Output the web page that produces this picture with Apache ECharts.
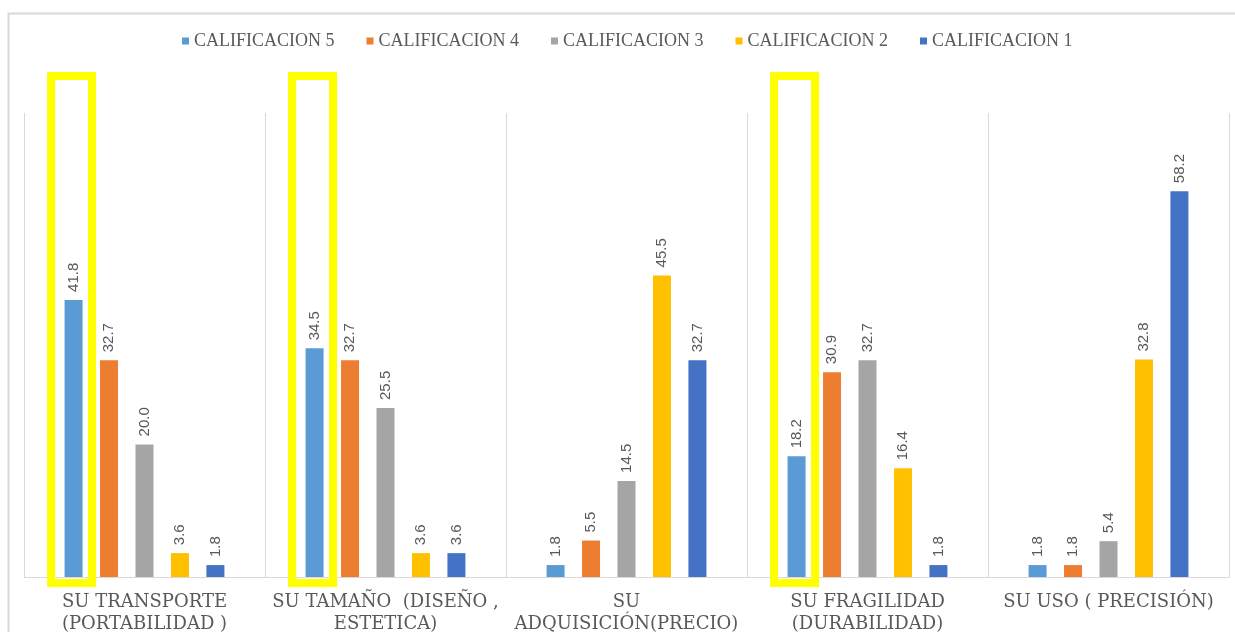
<!DOCTYPE html>
<html>
<head>
<meta charset="utf-8">
<script src="https://cdn.jsdelivr.net/npm/echarts@6/dist/echarts.min.js"></script>
<style>
  html, body { margin: 0; padding: 0; background: #ffffff; }
  #chart { width: 1235px; height: 632px; }
</style>
</head>
<body>
<div id="chart"></div>
<script>
// Aspects that were rated
const categories = [
  'SU TRANSPORTE\n(PORTABILIDAD )',
  'SU TAMAÑO  (DISEÑO ,\nESTETICA)',
  'SU\nADQUISICIÓN(PRECIO)',
  'SU FRAGILIDAD\n(DURABILIDAD)',
  'SU USO ( PRECISIÓN)'
];

// Percentage of answers for each rating
const seriesNames = ['CALIFICACION 5', 'CALIFICACION 4', 'CALIFICACION 3', 'CALIFICACION 2', 'CALIFICACION 1'];
const calificacion5 = [41.8, 34.5, 1.8, 18.2, 1.8];
const calificacion4 = [32.7, 32.7, 5.5, 30.9, 1.8];
const calificacion3 = [20.0, 25.5, 14.5, 32.7, 5.4];
const calificacion2 = [3.6, 3.6, 45.5, 16.4, 32.8];
const calificacion1 = [1.8, 3.6, 32.7, 1.8, 58.2];

// Aspects whose top rating is outlined
const highlighted = [0, 1, 3];

const seriesData = [calificacion5, calificacion4, calificacion3, calificacion2, calificacion1];
const colors = ['#5B9BD5', '#ED7D31', '#A5A5A5', '#FFC000', '#4472C4'];

const BAR_WIDTH = 18;
const BAR_GAP = 0.97;
const BAR_STEP = BAR_WIDTH * (1 + BAR_GAP);

const chart = echarts.init(document.getElementById('chart'), null, { renderer: 'canvas' });

const barSeries = seriesNames.map((name, i) => ({
  name: name,
  type: 'bar',
  data: seriesData[i],
  barWidth: BAR_WIDTH,
  barGap: (BAR_GAP * 100) + '%',
  itemStyle: { color: colors[i] },
  label: {
    show: true,
    position: 'top',
    rotate: 90,
    align: 'left',
    verticalAlign: 'middle',
    distance: 8,
    fontFamily: 'Liberation Sans',
    fontSize: 15,
    color: '#595959',
    formatter: p => p.value.toFixed(1)
  }
}));

// Yellow outline around the "CALIFICACION 5" bar of the selected aspects
const outlineSeries = {
  type: 'custom',
  name: 'outline',
  clip: false,
  silent: true,
  z: 10,
  data: highlighted.map(i => [i]),
  renderItem: function (params, api) {
    const idx = api.value(0);
    const base = api.coord([idx, 0]);
    const top = api.coord([idx, 70]);
    const cx = base[0] - 2 * BAR_STEP - 2;
    const lw = 8;
    const outerW = 49;
    const y0 = top[1] - 41;
    const y1 = base[1] + 10;
    return {
      type: 'rect',
      shape: {
        x: cx - outerW / 2 + lw / 2,
        y: y0 + lw / 2,
        width: outerW - lw,
        height: (y1 - y0) - lw
      },
      style: { fill: null, stroke: '#FFFF00', lineWidth: lw }
    };
  }
};

chart.setOption({
  animation: false,
  backgroundColor: '#ffffff',
  graphic: [{
    type: 'rect',
    shape: { x: 8.5, y: 13.5, width: 1400, height: 800 },
    style: { fill: null, stroke: '#d9d9d9', lineWidth: 2 },
    silent: true,
    z: -1
  }],
  legend: {
    data: seriesNames,
    left: 177,
    top: 27,
    icon: 'rect',
    itemWidth: 7,
    itemHeight: 7,
    itemGap: 32,
    textStyle: {
      fontFamily: 'Liberation Serif',
      fontSize: 18,
      color: '#595959'
    }
  },
  grid: {
    left: 24,
    right: 6,
    top: 113,
    bottom: 55,
    containLabel: false,
    outerBoundsMode: 'none'
  },
  xAxis: {
    type: 'category',
    data: categories,
    axisLine: { lineStyle: { color: '#d9d9d9', width: 1 } },
    axisTick: { show: false },
    splitLine: { show: true, lineStyle: { color: '#d9d9d9', width: 1 } },
    axisLabel: {
      interval: 0,
      margin: 14,
      fontFamily: 'DejaVu Serif',
      fontSize: 18,
      lineHeight: 22,
      color: '#595959'
    }
  },
  yAxis: {
    type: 'value',
    min: 0,
    max: 70,
    show: false,
    splitLine: { show: false }
  },
  series: barSeries.concat([outlineSeries])
});
</script>
</body>
</html>
